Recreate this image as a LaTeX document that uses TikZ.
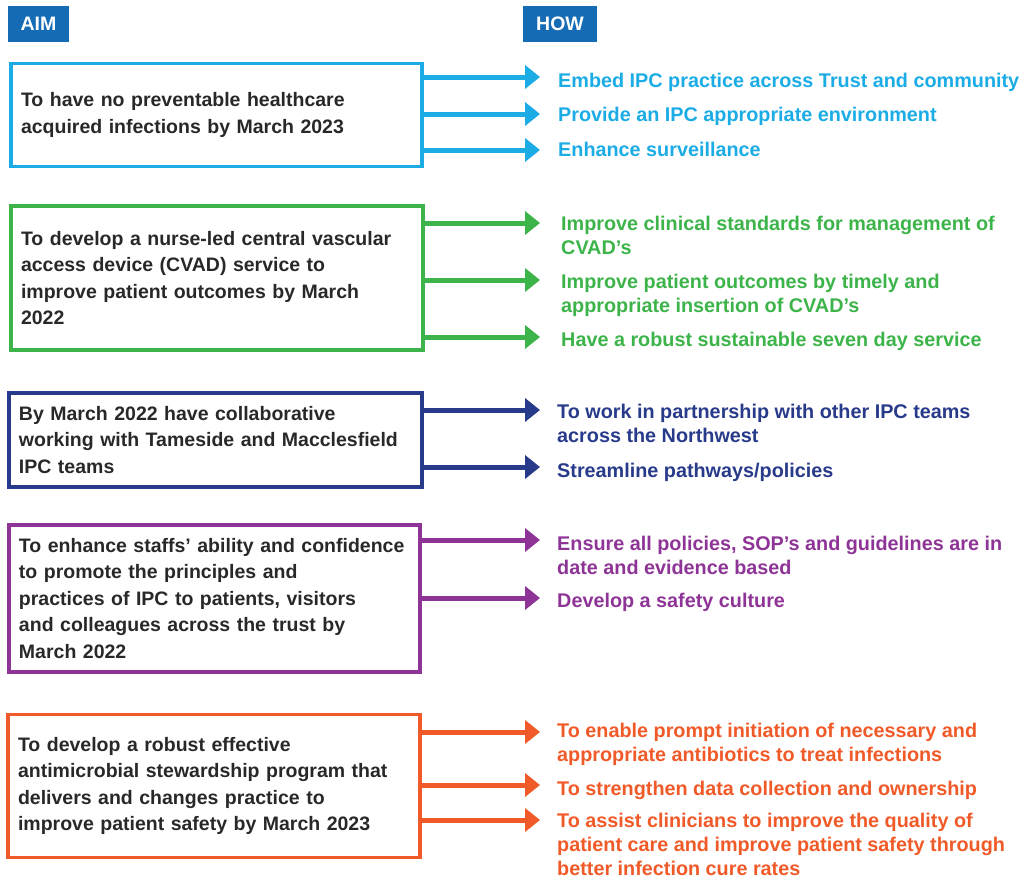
\documentclass[tikz,border=0pt]{standalone}
\usepackage{fontspec}
\setmainfont{Liberation Sans}
\usepackage{xcolor}
\usetikzlibrary{arrows.meta}

\definecolor{headblue}{RGB}{21,108,181}
\definecolor{ipccyan}{RGB}{27,172,230}
\definecolor{ipcgreen}{RGB}{61,180,74}
\definecolor{ipcnavy}{RGB}{40,58,138}
\definecolor{ipcpurple}{RGB}{142,52,150}
\definecolor{ipcorange}{RGB}{240,90,40}
\definecolor{aimtext}{RGB}{40,40,40}

\begin{document}
\begin{tikzpicture}[x=1pt, y=-1pt,
    every node/.style={font=\fontsize{19.5}{26.5}\selectfont\bfseries},
    head/.style={fill=headblue, text=white, minimum height=36pt, inner sep=0pt},
    aimbox/.style={draw=#1, line width=3.5pt, text=aimtext, align=left, inner xsep=10pt, inner ysep=0pt},
    howtext/.style={text=#1, anchor=base west, align=left, inner sep=0pt, font=\fontsize{19.8}{24}\selectfont\bfseries},
    howarrow/.style={draw=#1, line width=5pt, -{Triangle[length=15pt, width=23pt]}}]
    \useasboundingbox (0,0) rectangle (1025,879);

    % Headings
    \node[head, minimum width=61pt] (aim-head) at (38.5,24) {AIM};
    \node[head, minimum width=74pt] (how-head) at (560,24) {HOW};

    % Aim 1 (base of a how-text is its last line)
    \node[aimbox=ipccyan, minimum width=411pt, minimum height=103pt, text width=391pt] (aim1) at (216.5,115)
        {To have no preventable healthcare\\acquired infections by March 2023};
    \coordinate (t1a) at (540,77);
    \coordinate (t1b) at (540,114);
    \coordinate (t1c) at (540,150);
    \node[howtext=ipccyan] (how1a) at (558,87) {Embed IPC practice across Trust and community};
    \node[howtext=ipccyan] (how1b) at (558,121) {Provide an IPC appropriate environment};
    \node[howtext=ipccyan] (how1c) at (558,156) {Enhance surveillance};
    \draw[howarrow=ipccyan] (aim1.east |- t1a) -- (t1a);
    \draw[howarrow=ipccyan] (aim1.east |- t1b) -- (t1b);
    \draw[howarrow=ipccyan] (aim1.east |- t1c) -- (t1c);

    % Aim 2
    \node[aimbox=ipcgreen, minimum width=412pt, minimum height=144pt, text width=392pt] (aim2) at (217,278)
        {To develop a nurse-led central vascular\\access device (CVAD) service to\\improve patient outcomes by March\\2022};
    \coordinate (t2a) at (540,223);
    \coordinate (t2b) at (540,280);
    \coordinate (t2c) at (540,337);
    \node[howtext=ipcgreen] (how2a) at (561,254) {Improve clinical standards for management of\\CVAD’s};
    \node[howtext=ipcgreen] (how2b) at (561,312) {Improve patient outcomes by timely and\\appropriate insertion of CVAD’s};
    \node[howtext=ipcgreen] (how2c) at (561,346) {Have a robust sustainable seven day service};
    \draw[howarrow=ipcgreen] (aim2.east |- t2a) -- (t2a);
    \draw[howarrow=ipcgreen] (aim2.east |- t2b) -- (t2b);
    \draw[howarrow=ipcgreen] (aim2.east |- t2c) -- (t2c);

    % Aim 3
    \node[aimbox=ipcnavy, minimum width=413pt, minimum height=94pt, text width=393pt] (aim3) at (215.5,440)
        {By March 2022 have collaborative\\working with Tameside and Macclesfield\\IPC teams};
    \coordinate (t3a) at (540,410);
    \coordinate (t3b) at (540,467);
    \node[howtext=ipcnavy] (how3a) at (557,442) {To work in partnership with other IPC teams\\across the Northwest};
    \node[howtext=ipcnavy] (how3b) at (557,477) {Streamline pathways/policies};
    \draw[howarrow=ipcnavy] (aim3.east |- t3a) -- (t3a);
    \draw[howarrow=ipcnavy] (aim3.east |- t3b) -- (t3b);

    % Aim 4
    \node[aimbox=ipcpurple, minimum width=411pt, minimum height=147pt, text width=391pt] (aim4) at (214.5,598.5)
        {To enhance staffs’ ability and confidence\\to promote the principles and\\practices of IPC to patients, visitors\\and colleagues across the trust by\\March 2022};
    \coordinate (t4a) at (540,540);
    \coordinate (t4b) at (540,598);
    \node[howtext=ipcpurple] (how4a) at (557,574) {Ensure all policies, SOP’s and guidelines are in\\date and evidence based};
    \node[howtext=ipcpurple] (how4b) at (557,607) {Develop a safety culture};
    \draw[howarrow=ipcpurple] (aim4.east |- t4a) -- (t4a);
    \draw[howarrow=ipcpurple] (aim4.east |- t4b) -- (t4b);

    % Aim 5
    \node[aimbox=ipcorange, minimum width=412pt, minimum height=143pt, text width=392pt] (aim5) at (214,786)
        {To develop a robust effective\\antimicrobial stewardship program that\\delivers and changes practice to\\improve patient safety by March 2023};
    \coordinate (t5a) at (540,732);
    \coordinate (t5b) at (540,785);
    \coordinate (t5c) at (540,820);
    \node[howtext=ipcorange] (how5a) at (557,761) {To enable prompt initiation of necessary and\\appropriate antibiotics to treat infections};
    \node[howtext=ipcorange] (how5b) at (557,795) {To strengthen data collection and ownership};
    \node[howtext=ipcorange] (how5c) at (557,875.5) {To assist clinicians to improve the quality of\\patient care and improve patient safety through\\better infection cure rates};
    \draw[howarrow=ipcorange] (aim5.east |- t5a) -- (t5a);
    \draw[howarrow=ipcorange] (aim5.east |- t5b) -- (t5b);
    \draw[howarrow=ipcorange] (aim5.east |- t5c) -- (t5c);
\end{tikzpicture}
\end{document}
